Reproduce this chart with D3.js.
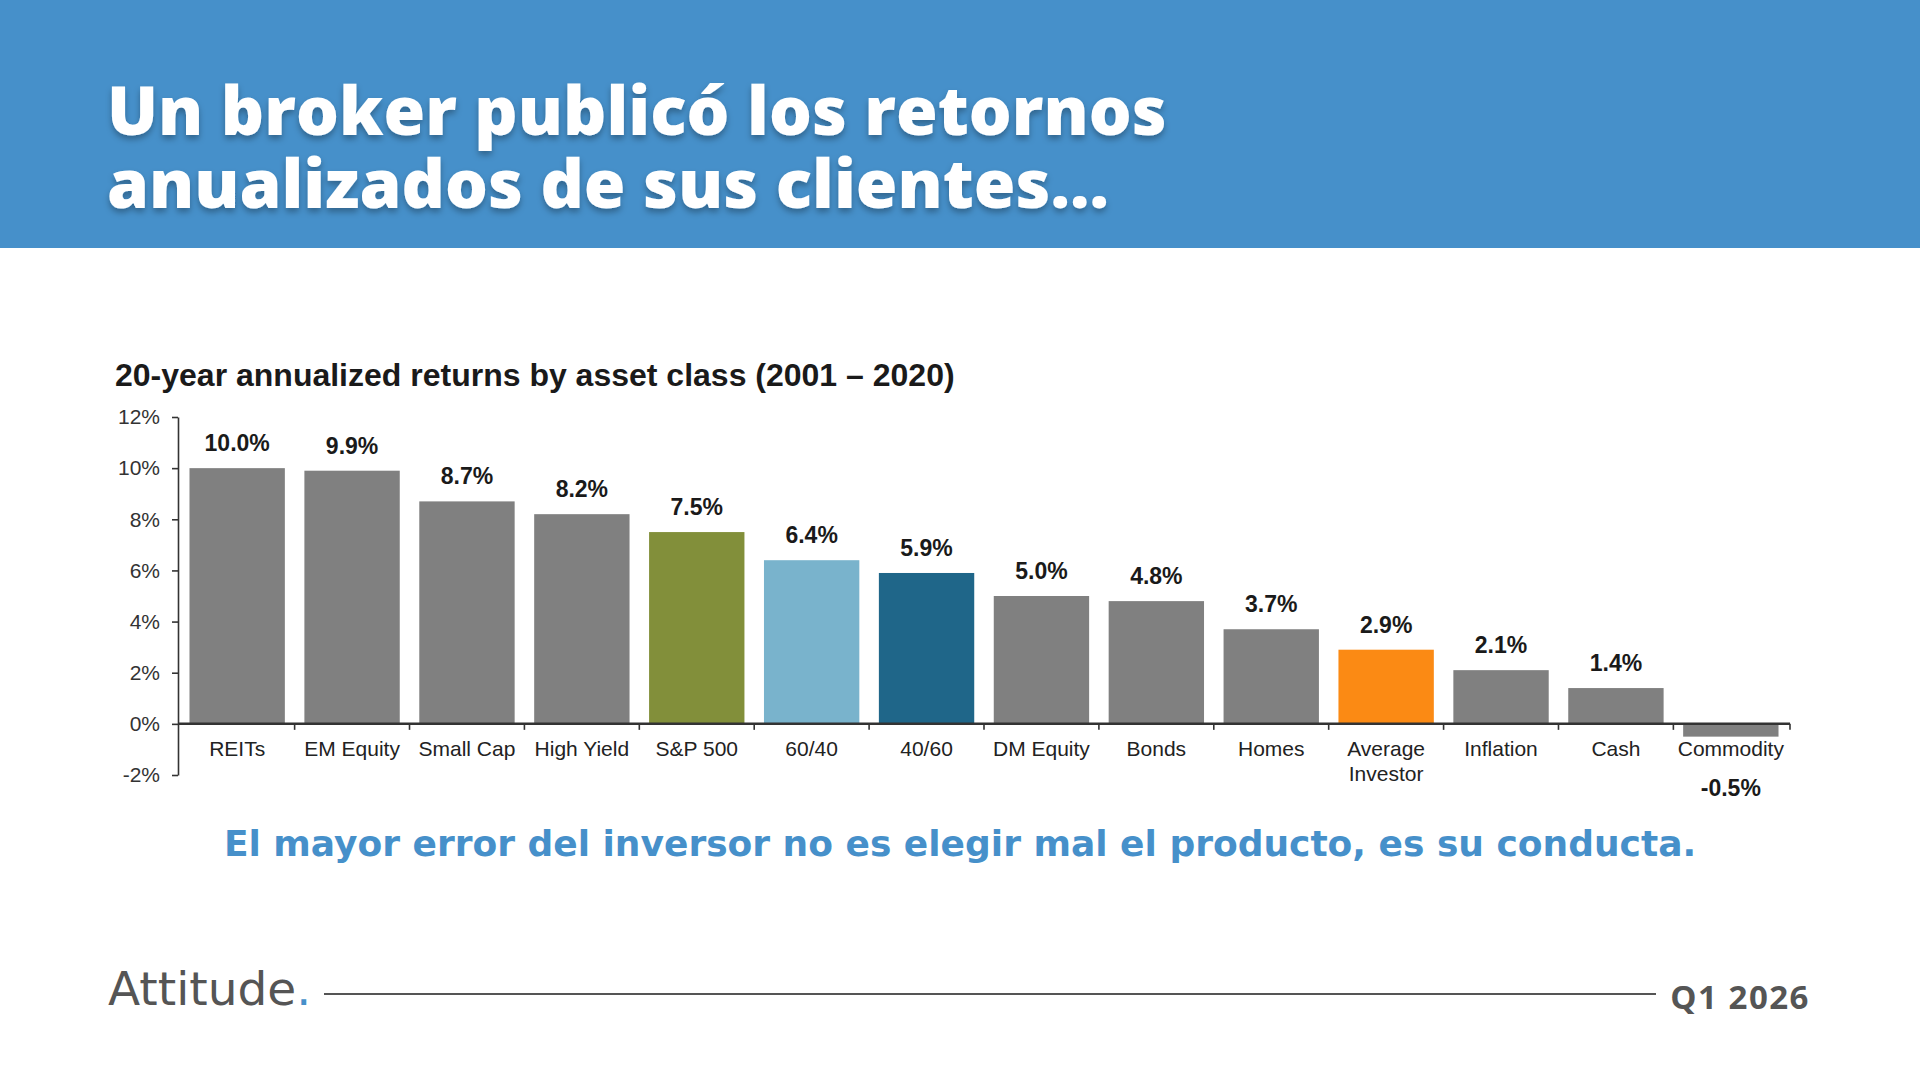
<!DOCTYPE html>
<html lang="es">
  <head>
    <meta charset="UTF-8" />
    <title>Retornos anualizados por clase de activo</title>
    <style>
      body {
        margin: 0;
        background: #fff;
      }
      svg {
        display: block;
      }
      .hero {
        font-family: "Open Sans", sans-serif;
        font-weight: 800;
        fill: #fff;
      }
      .chart-title,
      .axis text,
      .cat-label,
      .val-label {
        font-family: "Liberation Sans", Arial, sans-serif;
      }
    </style>
  </head>
  <body>
    <svg id="canvas" width="1920" height="1080"></svg>
    <script src="https://d3js.org/d3.v7.min.js"></script>
    <script>
      // data
      const categories = [
        "REITs", "EM Equity", "Small Cap", "High Yield", "S&P 500", "60/40", "40/60",
        "DM Equity", "Bonds", "Homes", "Average Investor", "Inflation", "Cash", "Commodity",
      ];
      const returns = [10.0, 9.9, 8.7, 8.2, 7.5, 6.4, 5.9, 5.0, 4.8, 3.7, 2.9, 2.1, 1.4, -0.5];
      const yTicks = [-2, 0, 2, 4, 6, 8, 10, 12];
      const titleLines = ["Un broker publicó los retornos", "anualizados de sus clientes..."];
      const chartTitle = "20-year annualized returns by asset class (2001 – 2020)";
      const takeaway = "El mayor error del inversor no es elegir mal el producto, es su conducta.";

      const BLUE = "#4690ca";
      const GRAY = "#808080";
      const highlight = {
        "S&P 500": "#828f3a",
        "60/40": "#79b3cc",
        "40/60": "#1f6689",
        "Average Investor": "#fb8a14",
      };

      const svg = d3.select("#canvas");

      // header band
      svg.append("rect").attr("width", 1920).attr("height", 248).attr("fill", BLUE);

      const defs = svg.append("defs");
      const shadow = defs.append("filter").attr("id", "shadow").attr("height", "140%");
      shadow
        .append("feDropShadow")
        .attr("dx", 0)
        .attr("dy", 4)
        .attr("stdDeviation", 3)
        .attr("flood-color", "#000")
        .attr("flood-opacity", 0.3);

      titleLines.forEach((line, i) => {
        svg
          .append("text")
          .attr("class", "hero")
          .attr("filter", "url(#shadow)")
          .attr("font-size", 67.5)
          .attr("x", 107)
          .attr("y", 135 + i * 73)
          .text(line);
      });

      // chart
      const margin = { left: 178, right: 1790, top: 417, bottom: 775 };

      const x = d3
        .scaleBand()
        .domain(categories)
        .range([margin.left, margin.right])
        .paddingInner(0.17)
        .paddingOuter(0.1);

      const y = d3.scaleLinear().domain([-2, 12]).range([margin.bottom, margin.top]);

      svg
        .append("text")
        .attr("class", "chart-title")
        .attr("x", 115)
        .attr("y", 386)
        .attr("font-size", 32)
        .attr("font-weight", "bold")
        .attr("fill", "#1a1a1a")
        .text(chartTitle);

      const rows = categories.map((c, i) => ({ cat: c, val: returns[i] }));

      svg
        .append("g")
        .selectAll("rect")
        .data(rows)
        .join("rect")
        .attr("x", (d) => x(d.cat))
        .attr("width", x.bandwidth())
        .attr("y", (d) => y(Math.max(0, d.val)))
        .attr("height", (d) => Math.abs(y(d.val) - y(0)))
        .attr("fill", (d) => highlight[d.cat] || GRAY);

      // y axis
      const yAxis = svg
        .append("g")
        .attr("class", "axis")
        .attr("transform", `translate(${margin.left},0)`)
        .call(
          d3
            .axisLeft(y)
            .tickValues(yTicks)
            .tickSize(6)
            .tickSizeOuter(0)
            .tickFormat((d) => d + "%")
        );
      yAxis.select(".domain").attr("stroke", "#333").attr("stroke-width", 1.6);
      yAxis.selectAll(".tick line").attr("stroke", "#333").attr("stroke-width", 1.6);
      yAxis
        .selectAll(".tick text")
        .attr("font-size", 21)
        .attr("fill", "#333")
        .attr("x", -18);

      // x axis at zero, ticks sit between the bars
      const gap = (x.step() * x.paddingInner()) / 2;
      const xAxis = svg.append("g").attr("class", "axis");
      xAxis
        .append("line")
        .attr("x1", margin.left)
        .attr("x2", margin.right)
        .attr("y1", y(0))
        .attr("y2", y(0))
        .attr("stroke", "#333")
        .attr("stroke-width", 2.5);
      xAxis
        .selectAll("line.tick")
        .data(categories.slice(1).map((c) => x(c) - gap).concat([margin.right]))
        .join("line")
        .attr("class", "tick")
        .attr("x1", (d) => d)
        .attr("x2", (d) => d)
        .attr("y1", y(0))
        .attr("y2", y(0) + 6)
        .attr("stroke", "#333")
        .attr("stroke-width", 1.6);

      // category labels
      const cat = svg
        .append("g")
        .selectAll("text")
        .data(categories)
        .join("text")
        .attr("class", "cat-label")
        .attr("text-anchor", "middle")
        .attr("font-size", 21)
        .attr("fill", "#222");
      cat
        .selectAll("tspan")
        .data((d) => (d.length > 12 ? d.split(" ") : [d]).map((t) => ({ t, c: d })))
        .join("tspan")
        .attr("x", (d) => x(d.c) + x.bandwidth() / 2)
        .attr("y", (d, i) => y(0) + 32 + i * 25)
        .text((d) => d.t);

      // value labels
      svg
        .append("g")
        .selectAll("text")
        .data(rows)
        .join("text")
        .attr("class", "val-label")
        .attr("text-anchor", "middle")
        .attr("font-size", 23)
        .attr("font-weight", "bold")
        .attr("fill", "#1a1a1a")
        .attr("x", (d) => x(d.cat) + x.bandwidth() / 2)
        .attr("y", (d) => (d.val >= 0 ? y(d.val) - 17 : y(0) + 72))
        .text((d) => d.val.toFixed(1) + "%");

      // takeaway line
      svg
        .append("text")
        .attr("x", 960)
        .attr("y", 856)
        .attr("text-anchor", "middle")
        .attr("font-family", "'DejaVu Sans', sans-serif")
        .attr("font-weight", 700)
        .attr("font-size", 36)
        .attr("fill", BLUE)
        .text(takeaway);

      // footer
      const brand = svg
        .append("text")
        .attr("x", 108)
        .attr("y", 1005)
        .attr("font-family", "'DejaVu Sans', sans-serif")
        .attr("font-size", 47)
        .attr("fill", "#555");
      brand.append("tspan").text("Attitude");
      brand.append("tspan").attr("fill", BLUE).text(".");

      svg
        .append("line")
        .attr("x1", 324)
        .attr("x2", 1656)
        .attr("y1", 994)
        .attr("y2", 994)
        .attr("stroke", "#555")
        .attr("stroke-width", 2);

      svg
        .append("text")
        .attr("x", 1810)
        .attr("y", 1009)
        .attr("text-anchor", "end")
        .attr("font-family", "'Open Sans', sans-serif")
        .attr("font-weight", 700)
        .attr("font-size", 33)
        .attr("letter-spacing", 1.5)
        .attr("fill", "#555")
        .text("Q1 2026");
    </script>
  </body>
</html>
